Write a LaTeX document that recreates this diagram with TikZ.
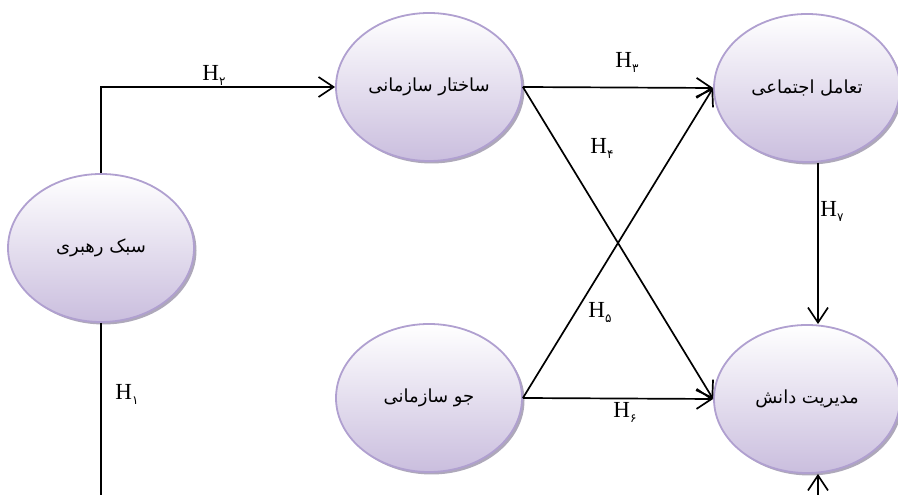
\documentclass[tikz,border=0pt]{standalone}
\usepackage{fontspec}
\setmainfont{Liberation Serif}
\newfontfamily\arabicfont[Script=Arabic]{DejaVu Sans}
\TeXXeTstate=1
\definecolor{varrim}{RGB}{176, 160, 208}
\definecolor{varfill}{RGB}{202, 190, 222}
\definecolor{varshade}{RGB}{120, 110, 140}
\usetikzlibrary{shapes, arrows.meta, positioning, calc, shadows}
\newcommand{\hyp}[1]{H\raisebox{-5pt}{\fontsize{12}{12}\selectfont\arabicfont #1}}

\tikzset{
  construct/.style={ellipse, draw=varrim, line width=1.8pt, top color=white, bottom color=varfill,
    minimum width=186pt, minimum height=148pt, inner sep=0pt,
    drop shadow={shadow xshift=2.5pt, shadow yshift=-2.5pt, fill=varshade, opacity=0.6},
    font=\fontsize{18}{21}\selectfont\arabicfont},
  link/.style={-{Straight Barb[length=15pt,width=20pt]}, line width=1.7pt},
  hlabel/.style={font=\fontsize{23}{26}\selectfont, inner sep=0pt}
}

\begin{document}
\begin{tikzpicture}[x=1pt, y=1pt]
  \useasboundingbox (0,0) rectangle (898,495);
  \clip (0,0) rectangle (898,495);

  \node[construct] (sabk)    at (101,247) {\beginR سبک رهبری\endR};
  \node[construct] (sakhtar) at (429,408) {\beginR ساختار سازمانی\endR};
  \node[construct] (jav)     at (429,97)  {\beginR جو سازمانی\endR};
  \node[construct] (tamol)   at (807,407) {\beginR تعامل اجتماعی\endR};
  \node[construct] (modir)   at (807,96)  {\beginR مدیریت دانش\endR};

  \draw[link] (sabk.north) |- (sakhtar.west);
  \draw[link] (sabk.south) |- ([xshift=11pt, yshift=-60pt]modir.south) -- ([xshift=11pt]modir.south);
  \draw[link] (sakhtar.east) -- (tamol.west);
  \draw[link] (sakhtar.east) -- (modir.west);
  \draw[link] (jav.east) -- (tamol.west);
  \draw[link] (jav.east) -- (modir.west);
  \draw[link] ([xshift=11pt]tamol.south) -- ([xshift=11pt]modir.north);

  \node[hlabel] (h1) at (127,101) {\hyp{۱}};
  \node[hlabel] (h2) at (214,420) {\hyp{۲}};
  \node[hlabel] (h3) at (627,433) {\hyp{۳}};
  \node[hlabel] (h4) at (602,347) {\hyp{۴}};
  \node[hlabel] (h5) at (600,182) {\hyp{۵}};
  \node[hlabel] (h6) at (625,83)  {\hyp{۶}};
  \node[hlabel] (h7) at (832,284) {\hyp{۷}};
\end{tikzpicture}
\end{document}
